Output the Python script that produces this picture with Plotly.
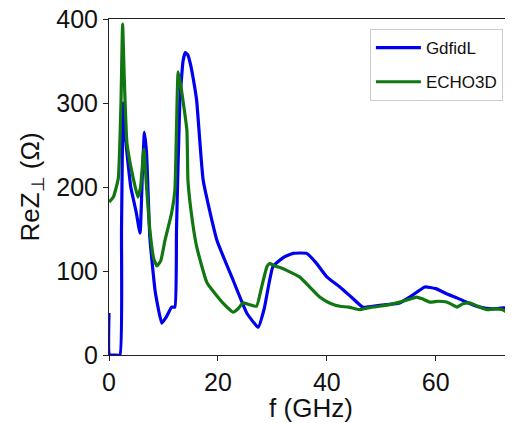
import plotly.graph_objects as go

# GdfidL (blue)
gdf_x = [0, 0.1, 1.0, 2.0, 2.3, 2.6, 3.0, 4.0, 5.0, 5.7, 6.1, 6.5, 6.9, 7.5, 8.5, 9.7, 10.5, 11.5, 12.1, 12.4, 13.0, 13.6, 14.0, 14.5, 15.0, 15.5, 16.1, 17.3, 19.8, 22.8, 25.3, 27.4, 28.5, 30.1, 32.0, 33.8, 36.3, 38.0, 40.0, 42.4, 44.5, 46.6, 48.4, 51.0, 53.4, 55.5, 58.0, 60.0, 62.0, 63.9, 66.0, 68.1, 70.5, 72.5, 74.5]
gdf_y = [50, 0, 0, 0, 150, 300, 260, 200, 170, 145, 210, 265, 240, 140, 75, 38, 45, 57, 57, 150, 300, 350, 360, 357, 345, 328, 303, 208, 137, 89, 50, 33, 55, 105, 116, 121, 121, 110, 93, 81, 69, 57, 58, 60, 62, 70, 81, 79, 73, 68, 62, 57, 55, 56, 58]

# ECHO3D (green)
echo_x = [0, 0.8, 1.7, 2.2, 2.5, 2.8, 3.3, 4.3, 5.3, 5.8, 6.4, 6.9, 7.5, 8.2, 8.8, 9.5, 10.3, 11.5, 12.1, 12.4, 12.7, 13.2, 14.3, 14.5, 15.2, 16.1, 18.0, 20.9, 22.8, 23.7, 24.6, 25.8, 27.1, 28.0, 29.0, 29.5, 30.5, 31.9, 33.5, 35.0, 37.0, 38.7, 40.5, 42.4, 44.0, 46.0, 47.5, 49.7, 51.5, 53.4, 55.0, 56.5, 57.5, 58.9, 60.5, 62.0, 63.0, 63.9, 65.0, 66.2, 67.8, 69.4, 71.0, 72.3, 74.5]
echo_y = [182, 188, 210, 300, 394, 330, 252, 215, 188, 200, 245, 200, 149, 115, 106, 112, 137, 169, 196, 270, 337, 320, 268, 208, 165, 129, 86, 62, 51, 55, 62, 60, 58, 80, 105, 109, 106, 103, 98, 93, 80, 69, 62, 58, 57, 54, 56, 58, 60, 63, 66, 69, 67, 63, 64, 63, 60, 57, 61, 62, 58, 54, 55, 54, 44]

fig = go.Figure()
fig.add_trace(go.Scatter(x=gdf_x, y=gdf_y, mode="lines", name="GdfidL", legendgroup="a",
                         line=dict(color="#0000ee", width=3.2, shape="spline", smoothing=0.4)))
fig.add_trace(go.Scatter(x=echo_x, y=echo_y, mode="lines", name="ECHO3D", legendgroup="b",
                         line=dict(color="#117711", width=3.2, shape="spline", smoothing=0.4)))

fig.update_layout(
    width=505, height=415,
    margin=dict(l=101, r=0, t=11, b=68, autoexpand=False),
    plot_bgcolor="white", paper_bgcolor="white",
    font=dict(family="Liberation Sans, Arial, sans-serif", color="#111111"),
    showlegend=True,
    legend=dict(x=0.975, y=0.97, xanchor="right", yanchor="top",
                bgcolor="white", bordercolor="#cccccc", borderwidth=1,
                font=dict(size=17), traceorder="grouped", tracegroupgap=9,
                itemwidth=45),
    xaxis=dict(range=[0, 74.2], tickvals=[0, 20, 40, 60], showgrid=False,
               zeroline=False, showline=True, linecolor="#222222", linewidth=1,
               mirror=True, ticks="outside", ticklen=5, tickcolor="#222222",
               tickfont=dict(size=25), automargin=False, ticklabeloverflow="allow",
               title=dict(text="f (GHz)", font=dict(size=26), standoff=8)),
    yaxis=dict(range=[0, 400], tickvals=[0, 100, 200, 300, 400], showgrid=False,
               zeroline=False, showline=True, linecolor="#222222", linewidth=1,
               ticks="outside", ticklen=5, tickcolor="#222222",
               tickfont=dict(size=25), automargin=False, ticklabeloverflow="allow",
               title=dict(text="ReZ<sub>⊥</sub> (Ω)", font=dict(size=26), standoff=9)),
)

fig.write_html("out.html")
